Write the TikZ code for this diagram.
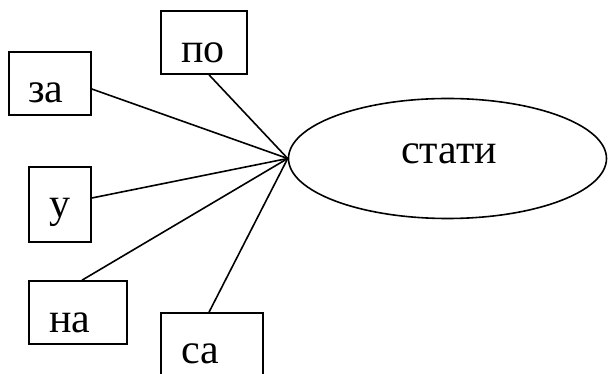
\documentclass[tikz,border=0pt]{standalone}
\usepackage{fontspec}
\setmainfont{Liberation Serif}
\usetikzlibrary{shapes.geometric}
\begin{document}
\begin{tikzpicture}[x=1pt,y=1pt,
  box/.style={draw,line width=1.6pt,rectangle,inner sep=0pt},
  oval/.style={draw,line width=1.6pt,ellipse,inner sep=0pt,minimum width=318pt,minimum height=120pt},
  txt/.style={anchor=base,inner sep=0pt,font=\fontsize{42}{48}\selectfont},
  link/.style={line width=1.6pt}]
\useasboundingbox (0,0) rectangle (608,-374);
\begin{scope}
\clip (0,0) rectangle (608,-374);
\node[oval] (st) at (447.5,-158.5) {};
\node[box,minimum width=86pt,minimum height=63pt] (po) at (204,-42.5) {};
\node[box,minimum width=82pt,minimum height=63pt] (za) at (50,-83.5) {};
\node[box,minimum width=62pt,minimum height=75pt] (u) at (60,-204.5) {};
\node[box,minimum width=98pt,minimum height=63pt] (na) at (78,-312.5) {};
\node[box,minimum width=102pt,minimum height=66pt] (sa) at (212,-346) {};
\end{scope}
\node[txt] (tst) at (449,-164) {стати};
\node[txt] (tpo) at (203,-63) {по};
\node[txt] (tza) at (46,-103) {за};
\node[txt] (tu) at (60,-218) {у};
\node[txt] (tna) at (70,-332) {на};
\node[txt] (tsa) at (200,-363) {са};
\draw[link] ([yshift=-5.5pt]za.east) -- (st.west);
\draw[link] ([xshift=5pt]po.south) -- (st.west);
\draw[link] ([yshift=6.5pt]u.east) -- (st.west);
\draw[link] ([xshift=4pt]na.north) -- (st.west);
\draw[link] ([xshift=-3pt]sa.north) -- (st.west);
\end{tikzpicture}
\end{document}
